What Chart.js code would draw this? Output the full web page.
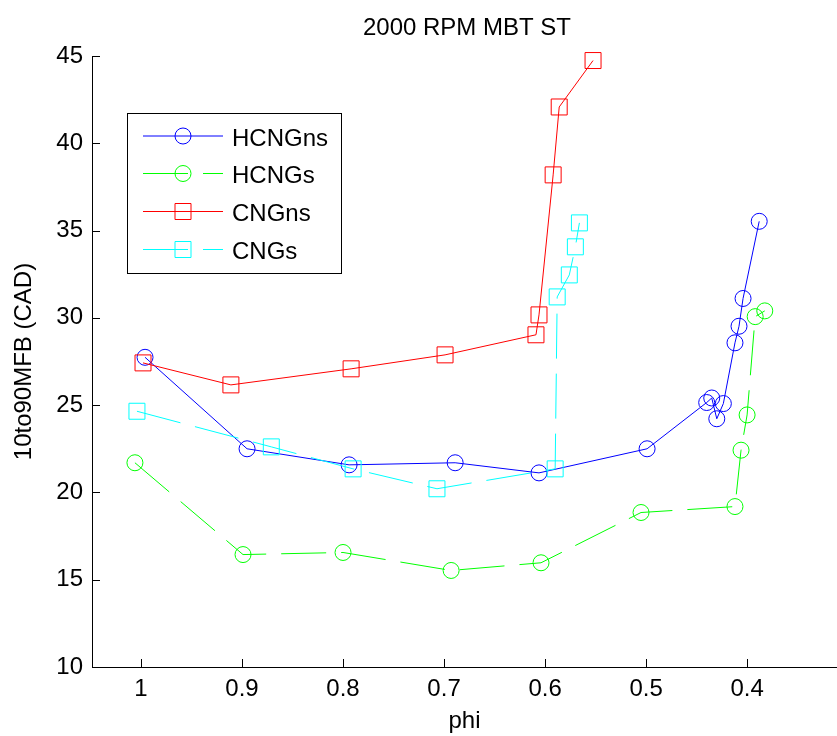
<!DOCTYPE html>
<html>
<head>
<meta charset="utf-8">
<title>2000 RPM MBT ST</title>
<script src="https://cdn.jsdelivr.net/npm/chart.js@4.4.1/dist/chart.umd.min.js"></script>
<style>
    html, body { margin: 0; padding: 0; background: #fff; }
    #wrap { width: 837px; height: 736px; }
</style>
</head>
<body>
<div id="wrap"><canvas id="mfbChart" width="837" height="736"></canvas></div>
<script>
// Values
const chartTitle = '2000 RPM MBT ST';
const xLabel = 'phi';
const yLabel = '10to90MFB (CAD)';

const hcngnsPhi = [0.996, 0.895, 0.794, 0.689, 0.606, 0.499, 0.440, 0.435, 0.430, 0.4235, 0.412, 0.408, 0.404, 0.388];
const hcngnsCad = [27.74, 22.50, 21.58, 21.70, 21.12, 22.50, 25.15, 25.41, 24.22, 25.09, 28.57, 29.52, 31.11, 35.53];

const hcngsPhi = [1.006, 0.899, 0.800, 0.693, 0.604, 0.505, 0.412, 0.406, 0.400, 0.392, 0.3825];
const hcngsCad = [21.70, 16.44, 16.56, 15.53, 15.97, 18.85, 19.19, 22.42, 24.44, 30.07, 30.40];

const cngnsPhi = [0.998, 0.911, 0.792, 0.699, 0.609, 0.606, 0.592, 0.586, 0.5525];
const cngnsCad = [27.42, 26.16, 27.08, 27.88, 29.03, 30.17, 38.19, 42.08, 44.74];

const cngsPhi = [1.004, 0.871, 0.790, 0.707, 0.590, 0.588, 0.576, 0.570, 0.566];
const cngsCad = [24.65, 22.61, 21.35, 20.21, 21.35, 31.20, 32.46, 34.07, 35.44];

const xTicks = [1, 0.9, 0.8, 0.7, 0.6, 0.5, 0.4];
const yTicks = [10, 15, 20, 25, 30, 35, 40, 45];

const FONT = '"Liberation Sans", Arial, Helvetica, sans-serif';
const DASH = [45, 15];

function toPoints(xs, ys) {
    return xs.map((x, i) => ({ x: x, y: ys[i] }));
}

function makeSeries(label, xs, ys, color, marker, dashed, order) {
    return {
        label: label,
        data: toPoints(xs, ys),
        borderColor: color,
        backgroundColor: color,
        borderWidth: 1,
        borderDash: dashed ? DASH : [],
        pointStyle: marker,
        pointRadius: marker === 'rect' ? 11.3 : 8,
        pointHoverRadius: marker === 'rect' ? 11.3 : 8,
        pointBorderColor: color,
        pointBackgroundColor: 'rgba(0,0,0,0)',
        pointBorderWidth: 1,
        tension: 0,
        fill: false,
        clip: false,
        order: order
    };
}

const datasets = [
    makeSeries('HCNGns', hcngnsPhi, hcngnsCad, '#0000ff', 'circle', false, 4),
    makeSeries('HCNGs', hcngsPhi, hcngsCad, '#00ff00', 'circle', true, 3),
    makeSeries('CNGns', cngnsPhi, cngnsCad, '#ff0000', 'rect', false, 2),
    makeSeries('CNGs', cngsPhi, cngsCad, '#00ffff', 'rect', true, 1)
];

// MATLAB style: inward tick marks, title over the plot area, boxed legend
const matlabDecor = {
    id: 'matlabDecor',
    afterDraw(chart) {
        const ctx = chart.ctx;
        const area = chart.chartArea;
        const xs = chart.scales.x;
        const ys = chart.scales.y;

        ctx.save();
        ctx.strokeStyle = '#000';
        ctx.lineWidth = 1;
        ctx.beginPath();
        xTicks.forEach(v => {
            const px = Math.round(xs.getPixelForValue(v)) + 0.5;
            ctx.moveTo(px, area.bottom);
            ctx.lineTo(px, area.bottom - 8);
        });
        yTicks.forEach(v => {
            const py = Math.round(ys.getPixelForValue(v)) + 0.5;
            ctx.moveTo(area.left, py);
            ctx.lineTo(area.left + 8, py);
        });
        ctx.stroke();

        // title
        ctx.fillStyle = '#000';
        ctx.font = '24px ' + FONT;
        ctx.textAlign = 'center';
        ctx.textBaseline = 'alphabetic';
        ctx.fillText(chartTitle, 467, 35);

        // legend
        const box = { left: 127, top: 113, right: 341, bottom: 273 };
        ctx.fillStyle = '#fff';
        ctx.fillRect(box.left, box.top, box.right - box.left, box.bottom - box.top);
        ctx.strokeStyle = '#000';
        ctx.strokeRect(box.left + 0.5, box.top + 0.5, box.right - box.left, box.bottom - box.top);

        const rowY = [136, 173.5, 211.5, 249.5];
        datasets.forEach((ds, i) => {
            const y = rowY[i];
            ctx.strokeStyle = ds.borderColor;
            ctx.lineWidth = 1;
            ctx.setLineDash(ds.borderDash);
            ctx.beginPath();
            ctx.moveTo(143, y);
            ctx.lineTo(223, y);
            ctx.stroke();
            ctx.setLineDash([]);

            ctx.beginPath();
            if (ds.pointStyle === 'rect') {
                ctx.rect(183 - 8, y - 8, 16, 16);
            } else {
                ctx.arc(183, y, 8, 0, Math.PI * 2);
            }
            ctx.stroke();

            ctx.fillStyle = '#000';
            ctx.font = '24px ' + FONT;
            ctx.textAlign = 'left';
            ctx.textBaseline = 'alphabetic';
            ctx.fillText(ds.label, 232, y + 9.5);
        });
        ctx.restore();
    }
};

new Chart(document.getElementById('mfbChart'), {
    type: 'line',
    data: { datasets: datasets },
    plugins: [matlabDecor],
    options: {
        responsive: false,
        animation: false,
        devicePixelRatio: 1,
        layout: {
            autoPadding: false,
            padding: { top: 56, right: 0, bottom: 0, left: 0 }
        },
        plugins: {
            legend: { display: false },
            title: { display: false },
            tooltip: { enabled: false }
        },
        scales: {
            x: {
                type: 'linear',
                reverse: true,
                min: 0.311,
                max: 1.0485,
                afterBuildTicks: function(scale) {
                    scale.ticks = xTicks.map(v => ({ value: v }));
                },
                afterFit: function(scale) {
                    scale.height = 69;
                    scale.paddingLeft = 0;
                    scale.paddingRight = 0;
                },
                grid: { display: false, drawTicks: false },
                border: { display: true, color: '#000', width: 1 },
                ticks: {
                    color: '#000',
                    padding: 8,
                    maxRotation: 0,
                    autoSkip: false,
                    font: { family: FONT, size: 24 },
                    callback: v => String(v)
                },
                title: {
                    display: true,
                    text: xLabel,
                    color: '#000',
                    font: { family: FONT, size: 24 },
                    padding: { top: 0, bottom: 0 }
                }
            },
            y: {
                type: 'linear',
                min: 10,
                max: 45,
                afterBuildTicks: function(scale) {
                    scale.ticks = yTicks.map(v => ({ value: v }));
                },
                afterFit: function(scale) {
                    scale.width = 92;
                    scale.paddingTop = 0;
                    scale.paddingBottom = 0;
                },
                grid: { display: false, drawTicks: false },
                border: { display: true, color: '#000', width: 1 },
                ticks: {
                    color: '#000',
                    padding: 9,
                    autoSkip: false,
                    font: { family: FONT, size: 24 },
                    callback: v => String(v)
                },
                title: {
                    display: true,
                    text: yLabel,
                    color: '#000',
                    font: { family: FONT, size: 24 },
                    padding: { top: 10, bottom: 0 }
                }
            }
        }
    }
});
</script>
</body>
</html>
